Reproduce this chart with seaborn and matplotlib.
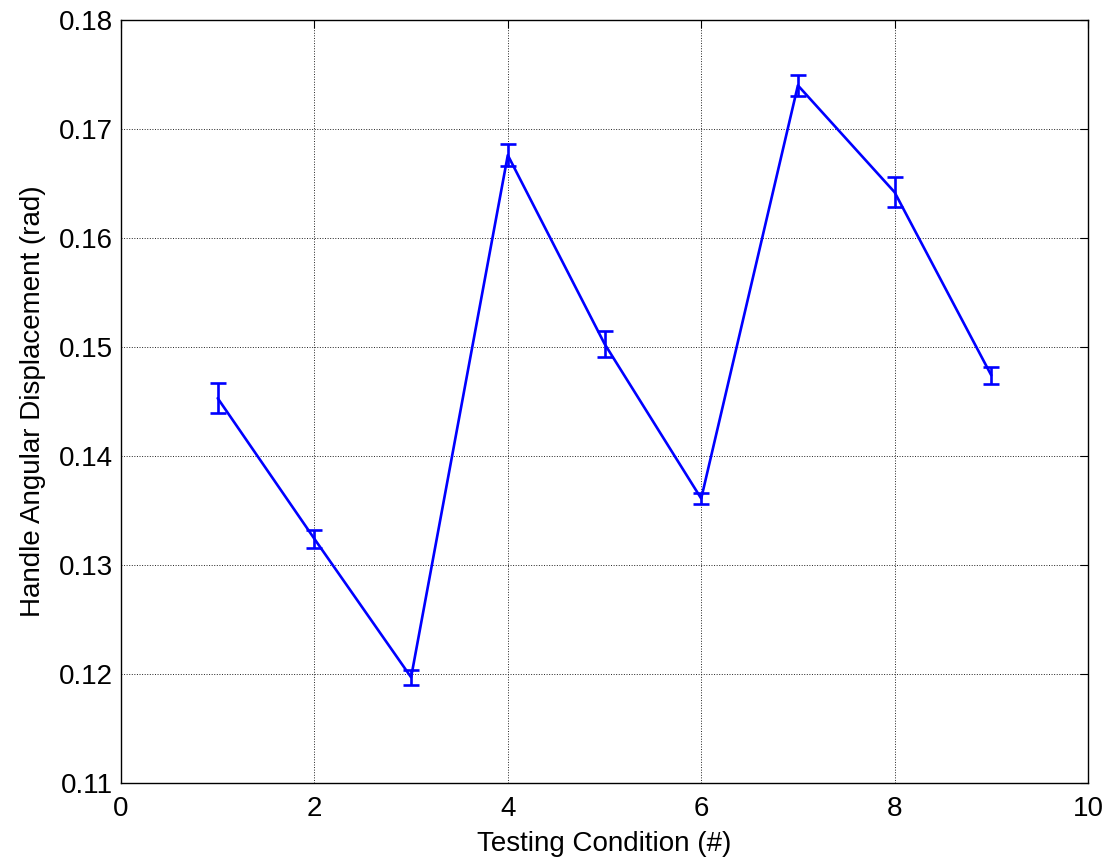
import numpy as np
import pandas as pd
import matplotlib
matplotlib.use("Agg")
import matplotlib.pyplot as plt
import seaborn as sns

conditions = [1, 2, 3, 4, 5, 6, 7, 8, 9]
displacement = [0.1453, 0.1324, 0.1197, 0.1676, 0.1503, 0.1361, 0.1740, 0.1642, 0.1474]
errors = [0.0014, 0.0008, 0.0007, 0.0010, 0.0012, 0.0005, 0.0010, 0.0014, 0.0008]
x_ticks = [0, 2, 4, 6, 8, 10]
y_ticks = [0.11, 0.12, 0.13, 0.14, 0.15, 0.16, 0.17, 0.18]

sns.set_style("white")
plt.rcParams['font.family'] = ['Liberation Sans', 'DejaVu Sans']
plt.rcParams['text.color'] = 'black'
plt.rcParams['axes.labelcolor'] = 'black'

df = pd.DataFrame({"cond": conditions, "disp": displacement, "err": errors})

fig = plt.figure(figsize=(11.13, 8.67), dpi=100)
ax = fig.add_axes([121 / 1113, 1 - 783 / 867, (1088 - 121) / 1113, (783 - 20) / 867])

sns.lineplot(data=df, x="cond", y="disp", color="#0000ff", linewidth=1.9, ax=ax, zorder=3)
ax.errorbar(df["cond"], df["disp"], yerr=df["err"], fmt="none", ecolor="#0000ff",
            elinewidth=1.9, capsize=5.6, capthick=1.9, zorder=3)

ax.set_xlim(0, 10)
ax.set_ylim(0.11, 0.18)
ax.set_xticks(x_ticks)
ax.set_yticks(y_ticks)
ax.set_yticklabels([f"{v:.2f}" for v in y_ticks])
ax.grid(True, color="#222222", linestyle=":", linewidth=0.7)
ax.tick_params(direction="in", top=True, right=True, length=6, width=0.8,
               labelsize=20, colors="black")
ax.tick_params(axis="x", pad=9.5)
ax.tick_params(axis="y", pad=6)
for s in ax.spines.values():
    s.set_color("black")
    s.set_linewidth(1.0)
ax.set_xlabel("Testing Condition (#)", fontsize=20, labelpad=6, color="black")
ax.set_ylabel("Handle Angular Displacement (rad)", fontsize=20, labelpad=9, color="black")

fig.savefig("out.png", dpi=100)
